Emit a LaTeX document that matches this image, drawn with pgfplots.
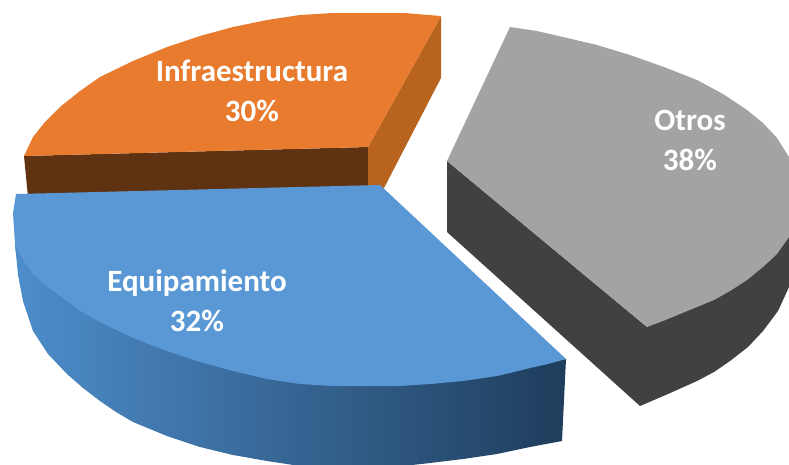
\documentclass[border=0pt]{standalone}
\usepackage{pgfplots}
\pgfplotsset{compat=1.18}
\usepackage{fontspec}
\setmainfont{Carlito}
\definecolor{naranja}{HTML}{E97B2E}
\definecolor{naranjalado}{HTML}{B8641F}
\definecolor{naranjafrente}{HTML}{5F3212}
\definecolor{azul}{HTML}{5A98D5}
\definecolor{azulizq}{HTML}{4D8DCB}
\definecolor{azulmed}{HTML}{41709F}
\definecolor{azulder}{HTML}{1F3D5C}
\definecolor{gris}{HTML}{A3A3A3}
\definecolor{grisoscuro}{HTML}{414141}
\tikzset{etiqueta/.style={white, align=center, font=\fontsize{31}{40}\selectfont\bfseries}}
\begin{document}
\begin{tikzpicture}
\begin{axis}[
    scale only axis,
    width=789pt,
    height=464pt,
    xmin=0, xmax=789,
    ymin=0, ymax=464,
    y dir=reverse,
    hide axis,
    every axis plot/.append style={draw=none, no markers},
]
% Otros: lateral
\addplot[fill=grisoscuro] coordinates {
    (447,161) (447,232) (640,406) (668,394) (697,381) (714,372) (730,361) (748,347) (763,331) (778,311) (789,287) (800,240) (789,200) (647,327)
} -- cycle;
% Otros: cara superior
\addplot[fill=gris] coordinates {
    (447,161) (510,27) (537,31) (563,37) (597,45) (630,55) (664,67) (697,80) (723,94) (747,110) (763,123) (777,138) (789,157) (795,185) (789,237) (777,254) (763,267) (747,280) (730,291) (714,300) (697,307) (680,314) (663,321) (647,327)
} -- cycle;
% Infraestructura: frente y lateral
\addplot[fill=naranjafrente] coordinates {(24,156) (368,147) (368,190) (28,197)} -- cycle;
\addplot[fill=naranjalado] coordinates {(368,147) (441,16) (441,78) (383,190) (368,190)} -- cycle;
% Infraestructura: cara superior
\addplot[fill=naranja] coordinates {
    (441,16) (404,13) (367,13) (333,13) (300,15) (267,20) (233,27) (200,36) (167,47) (133,61) (100,77) (80,91) (60,107) (45,122) (33,137) (24,156) (368,147)
} -- cycle;
% Equipamiento: lateral con degradado
\addplot[left color=azulizq, middle color=azulmed, right color=azulder] coordinates {
    (15,244) (18,275) (23,301) (33,331) (48,354) (67,374) (83,388) (100,401) (116,412) (133,422) (150,429) (167,436) (200,447) (233,455) (267,461) (300,466) (340,470) (385,468) (430,463) (463,459) (497,454) (530,447) (562,441) (566,359) (430,384) (300,383)
} -- cycle;
% Equipamiento: cara superior
\addplot[fill=azul] coordinates {
    (16,194) (380,185) (566,359) (548,364) (530,368) (514,372) (497,376) (463,381) (430,384) (400,386) (367,386) (333,386) (300,384) (267,379) (233,371) (200,362) (167,351) (133,338) (100,322) (82,312) (67,301) (49,288) (33,274) (23,260) (15,244) (13,213)
} -- cycle;
\node[etiqueta] at (axis cs:252,91) {Infraestructura\\30\%};
\node[etiqueta] at (axis cs:690,140) {Otros\\38\%};
\node[etiqueta] at (axis cs:197,301) {Equipamiento\\32\%};
\end{axis}
\pgfresetboundingbox
\useasboundingbox (0,0) rectangle (789pt,464pt);
\end{tikzpicture}
\end{document}
